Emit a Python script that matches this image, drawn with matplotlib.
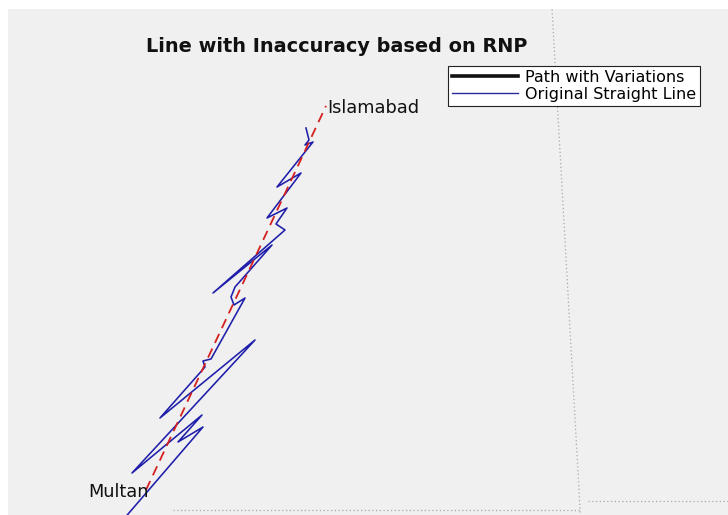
import matplotlib
matplotlib.use("Agg")
import matplotlib.pyplot as plt
from matplotlib.lines import Line2D
from matplotlib.patches import Rectangle
import numpy as np

plt.rcParams['font.family'] = ['DejaVu Sans']

# ---- data ----
cities = ["Multan", "Islamabad"]
city_lon = [71.5249, 73.0479]
city_lat = [30.1575, 33.6844]

# blue path with variations (lon, lat)
path_lon = [72.8785, 72.9039, 72.8701, 72.9378, 72.6332, 72.8362, 72.5486, 72.7178,
            72.6247, 72.7009, 72.0917, 72.5909, 72.2779, 72.2440, 72.2694, 72.3625,
            72.0748, 72.0071, 72.0241, 71.6433, 72.4471, 71.4065, 71.9987, 71.7956,
            72.0071, 71.2203]
path_lat = [33.4817, 33.3715, 33.3255, 33.3531, 32.9399, 33.0684, 32.6552, 32.7470,
            32.6001, 32.5450, 31.9665, 32.4073, 32.0216, 31.9298, 31.8563, 31.9206,
            31.3604, 31.3421, 31.2870, 30.8187, 31.5349, 30.3136, 30.8462, 30.5983,
            30.7360, 29.7443]

legend_labels = ["Path with Variations", "Original Straight Line"]
title = "Line with Inaccuracy based on RNP"

# graticule
meridian_lon = 75.0
parallel_lat = 30.0

# ---- figure ----
W, H = 728, 515
fig = plt.figure(figsize=(W / 100, H / 100), dpi=100)
fig.patch.set_facecolor('white')
fig.add_artist(Rectangle((8 / W, 0), 1 - 8 / W, 1 - 9 / H, transform=fig.transFigure,
                         facecolor='#f0f0f0', edgecolor='none', zorder=0))

ax = fig.add_axes([0, 0, 1, 1])
ax.set_facecolor('none')
ax.axis('off')
ax.set_xlim(70.2897, 76.4488)
ax.set_ylim(29.9279, 34.657)

# graticule lines (slightly converging, as in the map projection)
lat_line = np.array([34.57, 29.90])
ax.plot(meridian_lon + 0.0517 * (33.8 - lat_line), lat_line, linestyle=(0, (1, 2)),
        color='#a8a8a8', lw=0.9, zorder=1)
lon_l = np.array([71.75, meridian_lon + 0.0517 * (33.8 - parallel_lat)])
ax.plot(lon_l, parallel_lat - 0.026 + 0 * lon_l, linestyle=(0, (1, 2)),
        color='#a8a8a8', lw=0.9, zorder=1)
lon_r = np.array([meridian_lon + 0.0517 * (33.8 - parallel_lat) + 0.07, 76.5])
ax.plot(lon_r, parallel_lat + 0.056 + 0 * lon_r, linestyle=(0, (1, 2)),
        color='#a8a8a8', lw=0.9, zorder=1)

# path with variations
ax.plot(path_lon, path_lat, color='#1e1eaa', lw=1.15, zorder=3)
# straight line
ax.plot(city_lon, city_lat, color='#d42020', lw=1.3, linestyle=(0, (5.5, 3.5)), zorder=4)

ax.text(city_lon[0] + 0.02, city_lat[0] - 0.02, cities[0], ha='right', va='center',
        fontsize=12.8, color='#111111', zorder=5)
ax.text(city_lon[1] + 0.01, city_lat[1] - 0.02, cities[1], ha='left', va='center',
        fontsize=12.8, color='#111111', zorder=5)

fig.text(337 / W, 1 - 46 / H, title, ha='center', va='center', fontsize=13.9,
         fontweight='bold', color='#111111')

handles = [Line2D([], [], color='#111111', lw=2.6),
           Line2D([], [], color='#2a2a9a', lw=1.0)]
leg = ax.legend(handles, legend_labels, loc='upper right',
                bbox_to_anchor=(700 / W, 1 - 66 / H), bbox_transform=fig.transFigure,
                borderaxespad=0, fontsize=11.5, handlelength=4.1, handletextpad=0.45,
                labelspacing=0.12, borderpad=0.25, fancybox=False, framealpha=1,
                facecolor='white', edgecolor='#222222')
leg.get_frame().set_linewidth(0.8)

fig.savefig('out.png', dpi=100, facecolor=fig.get_facecolor())
